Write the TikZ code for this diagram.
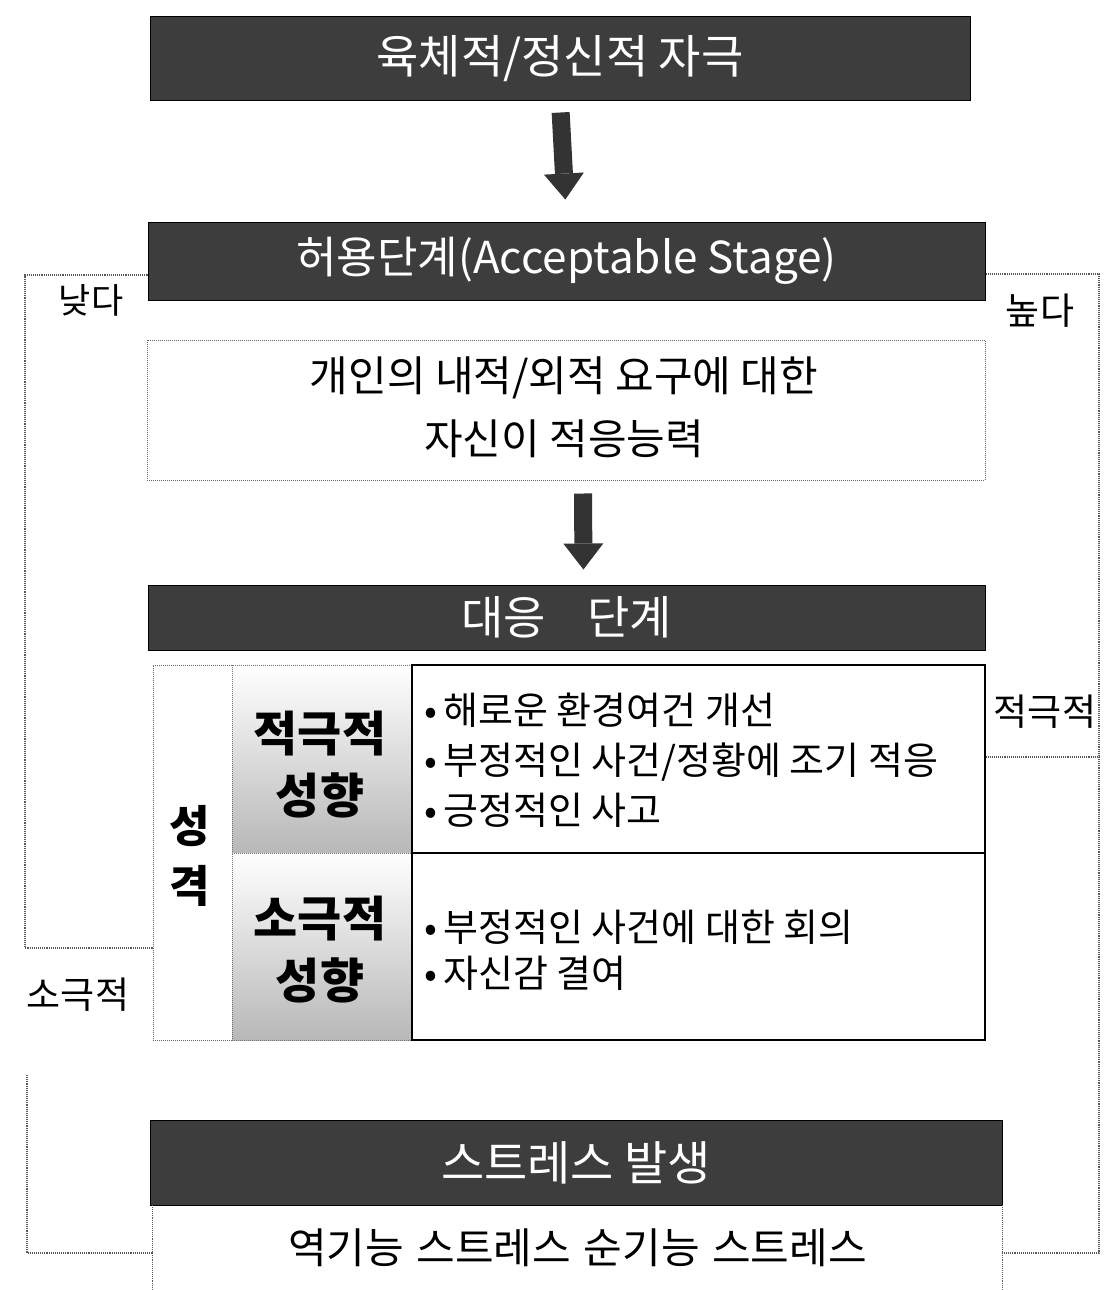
\documentclass[tikz,border=0pt]{standalone}
\usepackage{fontspec}
\setmainfont{Noto Sans CJK KR}
\usetikzlibrary{arrows.meta,calc}
\tikzset{
  darkbox/.style={draw=black, line width=1pt, fill=black!76, text=white, inner sep=0pt},
  dotbox/.style={draw=black!60, densely dotted, line width=1pt, inner sep=0pt},
  sideline/.style={draw=black!65, densely dotted, line width=1.1pt},
  solidcell/.style={draw=black, line width=2pt, inner sep=0pt},
  shadecell/.style={draw=black!55, densely dotted, line width=1pt, inner sep=0pt,
    top color=white, middle color=white, bottom color=black!28},
  blockarrow/.style={line width=18pt, draw=black!80, -{Triangle[width=40pt,length=26pt,line width=0pt]}},
  plain/.style={inner sep=0pt, align=center},
  sidefont/.style={font=\fontsize{37}{42}\selectfont},
}
\begin{document}
\begin{tikzpicture}[x=1pt,y=-1pt]
\useasboundingbox (0,0) rectangle (1104,1290);

% main boxes
\node[darkbox, minimum width=820pt, minimum height=83pt, font=\fontsize{46}{52}\selectfont] (stim) at (560,58.5) {육체적/정신적 자극};
\node[darkbox, minimum width=837pt, minimum height=78pt, font=\fontsize{44}{50}\selectfont] (accept) at (566.5,261) {허용단계(Acceptable Stage)};
\node[dotbox, minimum width=838pt, minimum height=140pt] (adapt) at (566,410) {};
\node[plain, font=\fontsize{42}{63}\selectfont] (adapttxt) at (564,407) {개인의 내적/외적 요구에 대한\\자신이 적응능력};
\node[darkbox, minimum width=837pt, minimum height=65pt, font=\fontsize{46}{52}\selectfont] (cope) at (566.5,617.5) {대응\hspace{0.9em}단계};

% arrows
\draw[blockarrow, shorten <=12pt, shorten >=22pt] (stim.south) -- (accept.north);
\draw[blockarrow, shorten <=13pt, shorten >=15pt] ([xshift=17pt]adapt.south) -- ([xshift=17pt]cope.north);

% table
\node[dotbox, minimum width=832pt, minimum height=375pt] (outer) at (569,852.5) {};
\node[plain, font=\bfseries\fontsize{44}{60}\selectfont] (pers) at (190,856) {성\\격};
\node[shadecell, minimum width=180pt, minimum height=188pt] (actL) at (322,759) {};
\node[shadecell, minimum width=180pt, minimum height=187pt] (pasL) at (322,946.5) {};
\node[plain, font=\bfseries\fontsize{48}{62}\selectfont] (acttxt) at (320,765) {적극적\\성향};
\node[plain, font=\bfseries\fontsize{48}{62}\selectfont] (pastxt) at (320,950) {소극적\\성향};
\node[solidcell, minimum width=573pt, minimum height=188pt] (actR) at (698.5,759) {};
\node[solidcell, minimum width=573pt, minimum height=187pt] (pasR) at (698.5,946.5) {};
\node[inner sep=0pt, align=left, anchor=west, font=\fontsize{38}{50}\selectfont] (actlist) at (424,760)
  {•\,해로운 환경여건 개선\\•\,부정적인 사건/정황에 조기 적응\\•\,긍정적인 사고};
\node[inner sep=0pt, align=left, anchor=west, font=\fontsize{38}{46}\selectfont] (paslist) at (424,950)
  {•\,부정적인 사건에 대한 회의\\•\,자신감 결여};

% stress boxes
\node[darkbox, minimum width=852pt, minimum height=85pt, font=\fontsize{47}{54}\selectfont] (stress) at (576,1162.5) {스트레스 발생};
\node[inner sep=0pt, minimum width=849pt, minimum height=85pt, font=\fontsize{42}{48}\selectfont] (kinds) at (577.5,1247.5)
  {역기능\hspace{0.3em}스트레스\hspace{0.3em}순기능\hspace{0.3em}스트레스};
\draw[sideline] (kinds.north west) -- (kinds.south west);
\draw[sideline] (kinds.north east) -- (kinds.south east);

% side labels
\node[plain, font=\fontsize{35}{40}\selectfont] (low) at (91,300) {낮다};
\node[plain, sidefont] (high) at (1040,311) {높다};
\node[plain, sidefont] (actside) at (1045,712) {적극적};
\node[plain, sidefont] (passide) at (78,995) {소극적};

% side lines
\coordinate (L1) at (25,275);
\coordinate (L2) at (25,948);
\coordinate (L3) at (27,1075);
\coordinate (L4) at (27,1253);
\coordinate (R1) at (1099,274);
\coordinate (R2) at (1099,1253);
\coordinate (R3) at (1099,757);
\draw[sideline] (L1 -| accept.west) -- (L1) -- (L2) -- (L2 -| outer.west);
\draw[sideline] (L3) -- (L4) -- (L4 -| kinds.west);
\draw[sideline] (R1 -| accept.east) -- (R1) -- (R2) -- (R2 -| kinds.east);
\draw[sideline] (R3 -| outer.east) -- (R3);
\end{tikzpicture}
\end{document}
